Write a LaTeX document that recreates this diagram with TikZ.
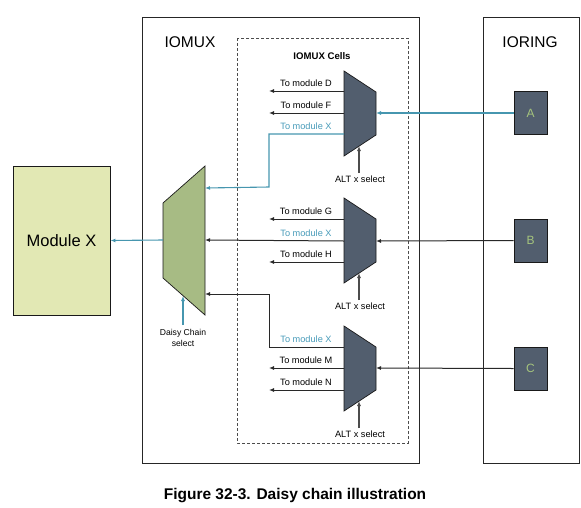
\documentclass[tikz,border=0pt]{standalone}
\usepackage{fontspec}
\setmainfont{Liberation Sans}
\usetikzlibrary{arrows.meta}
\definecolor{slate}{RGB}{82,94,110}
\definecolor{mgreen}{RGB}{167,187,132}
\definecolor{modfill}{RGB}{226,232,180}
\definecolor{teal}{RGB}{70,150,175}
\definecolor{tealtxt}{RGB}{72,155,185}
\definecolor{letter}{RGB}{165,196,125}
\definecolor{dline}{RGB}{40,40,40}
\tikzset{
  frame/.style={draw=black!85, line width=0.9pt},
  cellbox/.style={draw=black!70, line width=0.9pt, dash pattern=on 3pt off 2pt},
  muxshape/.style={draw=black!90, line width=0.7pt, fill=slate},
  greenmux/.style={draw=black!90, line width=0.7pt, fill=mgreen},
  padbox/.style={draw=black!90, line width=0.9pt, fill=slate, minimum width=33pt, minimum height=43pt, inner sep=0pt, text=letter, font=\fontsize{12}{14}\selectfont},
  lbl/.style={font=\fontsize{9.2}{10}\selectfont, anchor=base, inner sep=0pt},
  tip/.style={-{Latex[length=5pt,width=4pt]}},
  blk/.style={draw=dline, line width=1pt},
  tl/.style={draw=teal, line width=1.1pt},
  selarrow/.style={draw=black!70, line width=1.2pt},
}
\begin{document}
\begin{tikzpicture}[x=1pt,y=-1pt]
\useasboundingbox (0,0) rectangle (581,507);
% frames
\draw[frame] (142,17) rectangle (419,463);
\draw[frame] (483,17) rectangle (579,463);
\draw[cellbox] (237,38) rectangle (408,443);
\node[anchor=base, font=\fontsize{15.5}{17}\selectfont, inner sep=0pt] (tiomux) at (190,47) {IOMUX};
\node[anchor=base, font=\fontsize{15.5}{17}\selectfont, inner sep=0pt] (tioring) at (530,47) {IORING};
\node[anchor=base, font=\bfseries\fontsize{9.6}{11}\selectfont, inner sep=0pt] (tcells) at (322,59) {IOMUX Cells};

% Module X
\node[draw=black!90, line width=0.9pt, fill=modfill, minimum width=97pt, minimum height=149pt, inner sep=0pt, font=\fontsize{16.5}{18}\selectfont] (modx) at (61.5,240.5) {Module X};

% pads
\node[padbox] (A) at (530.5,113) {A};
\node[padbox] (B) at (530.5,240.5) {B};
\node[padbox] (C) at (530.5,368.5) {C};

% muxes (drawn shapes) with named coordinates
\draw[muxshape] (344,71) -- (376,92) -- (376,135) -- (344,156) -- cycle;
\coordinate (m1in) at (376,113); \coordinate (m1sel) at (359,146);
\draw[muxshape] (344,198) -- (376,219) -- (376,262) -- (344,283) -- cycle;
\coordinate (m2in) at (376,241); \coordinate (m2sel) at (359,273);
\draw[muxshape] (344,326) -- (376,347) -- (376,390) -- (344,411) -- cycle;
\coordinate (m3in) at (376,368); \coordinate (m3sel) at (359,401);

\draw[greenmux] (163,203) -- (205,166) -- (205,315) -- (163,278) -- cycle;
\coordinate (gout) at (163,240);
\coordinate (gin1) at (205,188); \coordinate (gin2) at (205,240); \coordinate (gin3) at (205,294);
\coordinate (gsel) at (183,296);

% inputs from pads
\draw[tl, tip] (A.west) -- (m1in);
\draw[blk, tip] (B.west) -- (m2in);
\draw[blk, tip] (C.west) -- (m3in);

% select arrows
\node[lbl] (alt1) at (360,182) {ALT x select};
\node[lbl] (alt2) at (360,309) {ALT x select};
\node[lbl] (alt3) at (360,437) {ALT x select};
\draw[selarrow, tip] (359,173) -- (m1sel);
\draw[selarrow, tip] (359,300) -- (m2sel);
\draw[selarrow, tip] (359,428) -- (m3sel);

% outputs mux1
\coordinate (oD) at (269,91); \coordinate (oF) at (269,113);
\draw[blk, tip] (344,91) -- (oD);
\draw[blk, tip] (344,113) -- (oF);
\node[lbl] at (306,86) {To module D};
\node[lbl] at (306,108) {To module F};
\node[lbl, text=tealtxt] at (306,129) {To module X};
\draw[tl, tip] (344,134) -- (269,134) -- (269,187) -- (gin1);

% outputs mux2
\coordinate (oG) at (269,219); \coordinate (oH) at (269,262);
\draw[blk, tip] (344,219) -- (oG);
\draw[blk, tip] (344,262) -- (oH);
\node[lbl] at (306,214) {To module G};
\node[lbl, text=tealtxt] at (306,236) {To module X};
\node[lbl] at (306,257) {To module H};
\draw[blk, tip] (344,241) -- (gin2);

% outputs mux3
\coordinate (oM) at (269,368); \coordinate (oN) at (269,390);
\draw[blk, tip] (344,368) -- (oM);
\draw[blk, tip] (344,390) -- (oN);
\node[lbl, text=tealtxt] at (306,342) {To module X};
\node[lbl] at (306,363) {To module M};
\node[lbl] at (306,385) {To module N};
\draw[blk, tip] (344,347) -- (269,347) -- (269,294) -- (gin3);

% green mux output and select
\draw[tl, tip] (gout) -- (modx.east);
\node[font=\fontsize{8.6}{11}\selectfont, align=center, inner sep=0pt, anchor=north] (dsel) at (183,329) {Daisy Chain\\select};
\draw[tl, tip] (183,325) -- (gsel);

% caption
\node[anchor=base, font=\bfseries\fontsize{15.5}{17}\selectfont, inner sep=0pt] (cap) at (295,499) {Figure 32-3. Daisy chain illustration};
\end{tikzpicture}
\end{document}
